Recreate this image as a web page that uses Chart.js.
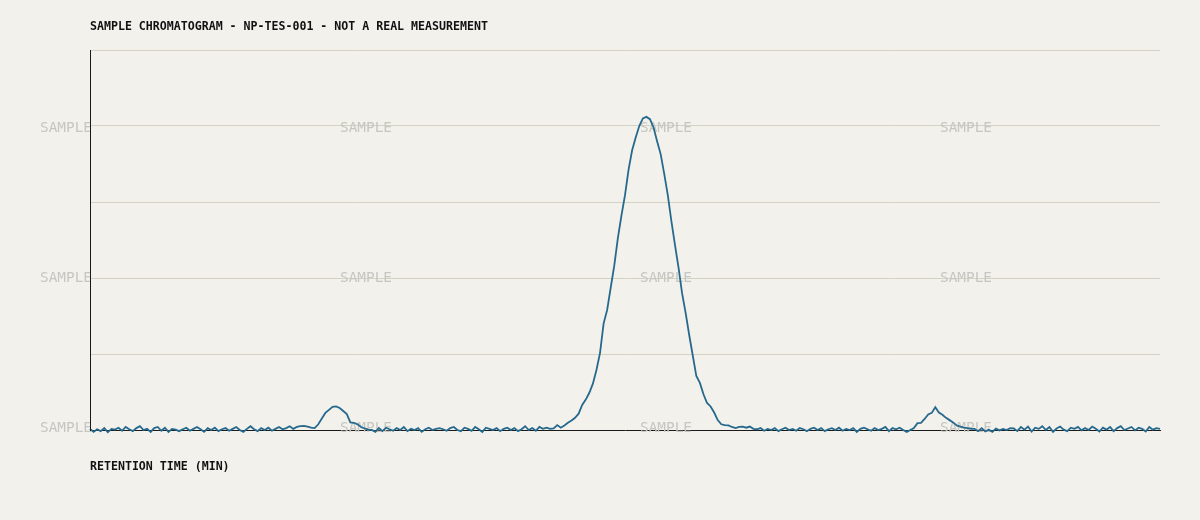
<!DOCTYPE html>
<html>
<head>
  <meta charset="UTF-8">
  <title>Sample chromatogram</title>
  <script src="https://cdn.jsdelivr.net/npm/chart.js"></script>
  <style>
    html, body { margin: 0; padding: 0; background: #f2f1ec; }
    #chart { display: block; }
  </style>
</head>
<body>
  <canvas id="chart" width="1200" height="520"></canvas>

  <script>
    const chartTitle = 'SAMPLE CHROMATOGRAM - NP-TES-001 - NOT A REAL MEASUREMENT';
    const xAxisTitle = 'RETENTION TIME (MIN)';
    const watermarkText = 'SAMPLE';

    // detector signal, one reading every 0.1 min from 0 to 30 min
    const signal = [
      0.3, -0.5, 0.2, -0.3, 0.5, -0.6, 0.3, 0.1, 0.6, -0.2,
      0.8, 0.2, -0.3, 0.5, 1.0, 0.0, 0.3, -0.5, 0.5, 0.8,
      -0.2, 0.6, -0.5, 0.3, 0.1, -0.3, 0.2, 0.6, -0.2, 0.3,
      0.8, 0.2, -0.5, 0.5, 0.0, 0.6, -0.3, 0.2, 0.5, -0.2,
      0.3, 0.8, 0.0, -0.5, 0.3, 1.0, 0.2, -0.3, 0.5, 0.0,
      0.6, -0.2, 0.3, 0.8, 0.2, 0.5, 1.0, 0.3, 0.8, 1.0,
      1.1, 0.9, 0.6, 0.5, 1.5, 3.0, 4.5, 5.3, 6.1, 6.2,
      5.8, 5.0, 4.2, 2.0, 1.9, 1.5, 0.8, 0.4, 0.1, 0.0,
      -0.5, 0.5, -0.3, 0.6, 0.2, -0.2, 0.5, 0.0, 0.8, -0.3,
      0.3, 0.0, 0.5, -0.5, 0.2, 0.6, 0.0, 0.3, 0.5, 0.2,
      -0.2, 0.5, 0.8, 0.0, -0.3, 0.6, 0.3, -0.2, 0.8, 0.2,
      -0.5, 0.6, 0.3, 0.0, 0.5, -0.3, 0.3, 0.6, 0.0, 0.5,
      -0.3, 0.2, 1.0, 0.0, 0.5, -0.2, 0.8, 0.3, 0.6, 0.3,
      0.4, 1.3, 0.6, 1.2, 1.9, 2.5, 3.2, 4.3, 6.6, 8.0,
      9.8, 12.2, 15.8, 20.3, 28.0, 31.6, 37.5, 43.3, 50.5, 56.4,
      61.8, 68.5, 73.6, 77.0, 80.0, 82.0, 82.4, 81.8, 79.6, 76.0,
      72.6, 67.4, 61.8, 55.0, 48.8, 42.8, 36.0, 30.8, 25.0, 19.6,
      14.2, 12.4, 9.4, 7.1, 6.2, 4.6, 2.6, 1.5, 1.3, 1.2,
      0.8, 0.5, 0.8, 0.9, 0.6, 0.9, 0.3, 0.2, 0.5, -0.2,
      0.3, 0.0, 0.5, -0.3, 0.2, 0.6, 0.0, 0.3, -0.2, 0.5,
      0.2, -0.3, 0.3, 0.6, 0.0, 0.5, -0.3, 0.2, 0.5, 0.0,
      0.6, -0.2, 0.3, 0.0, 0.5, -0.5, 0.3, 0.6, 0.2, -0.2,
      0.5, 0.0, 0.3, 0.8, -0.3, 0.5, 0.2, 0.6, 0.0, -0.5,
      0.0, 0.5, 1.8, 1.9, 2.9, 4.1, 4.5, 6.0, 4.6, 4.0,
      3.2, 2.6, 2.0, 1.2, 0.9, 0.6, 0.5, 0.3, 0.3, -0.3,
      0.5, -0.4, 0.1, -0.5, 0.4, -0.1, 0.3, 0.0, 0.5, 0.4,
      -0.3, 0.8, 0.1, 0.9, -0.4, 0.6, 0.3, 1.0, 0.0, 0.8,
      -0.5, 0.4, 0.9, 0.1, -0.3, 0.6, 0.3, 0.8, -0.1, 0.5,
      0.0, 0.9, 0.3, -0.4, 0.6, 0.1, 0.8, -0.3, 0.5, 1.0,
      0.0, 0.4, 0.8, -0.1, 0.6, 0.3, -0.4, 0.8, 0.1, 0.5,
      0.3
    ];
    const retentionTimes = signal.map((_, i) => (i / 10).toFixed(1));

    const watermarkCols = [40, 340, 640, 940];
    const watermarkRows = [128, 278, 428];

    const chromFont = '"DejaVu Sans Mono", "Liberation Mono", monospace';

    const decorations = {
      id: 'decorations',
      beforeDraw(chart) {
        const c = chart.ctx;
        c.save();
        c.fillStyle = '#f2f1ec';
        c.fillRect(0, 0, chart.width, chart.height);
        c.restore();
      },
      beforeDatasetsDraw(chart) {
        const c = chart.ctx;
        c.save();
        c.font = '14.4px ' + chromFont;
        c.fillStyle = '#c6c6c2';
        c.textBaseline = 'middle';
        c.textAlign = 'left';
        watermarkRows.forEach(y => {
          watermarkCols.forEach(x => c.fillText(watermarkText, x, y));
        });
        c.restore();
      },
      afterDraw(chart) {
        const c = chart.ctx;
        c.save();
        c.font = 'bold 11.6px ' + chromFont;
        c.fillStyle = '#111111';
        c.textBaseline = 'middle';
        c.textAlign = 'left';
        c.fillText(chartTitle, 90, 27);
        c.fillText(xAxisTitle, 90, 467);
        c.restore();
      }
    };

    new Chart(document.getElementById('chart'), {
      type: 'line',
      data: {
        labels: retentionTimes,
        datasets: [{
          data: signal,
          borderColor: '#26698d',
          borderWidth: 1.8,
          pointRadius: 0,
          tension: 0,
          fill: false,
          clip: 6
        }]
      },
      options: {
        responsive: false,
        animation: false,
        devicePixelRatio: 1,
        layout: { padding: { left: 90, right: 40, top: 50, bottom: 90 } },
        plugins: {
          legend: { display: false },
          tooltip: { enabled: false }
        },
        scales: {
          x: {
            offset: false,
            grid: { display: false, drawTicks: false },
            border: { display: true, color: '#1a1a1a', width: 1 },
            ticks: { display: false }
          },
          y: {
            min: 0,
            max: 100,
            ticks: { display: false, stepSize: 20 },
            grid: { color: '#d4d3c3', lineWidth: 1, drawTicks: false },
            border: { display: true, color: '#1a1a1a', width: 1, z: 1 }
          }
        }
      },
      plugins: [decorations]
    });
  </script>
</body>
</html>
